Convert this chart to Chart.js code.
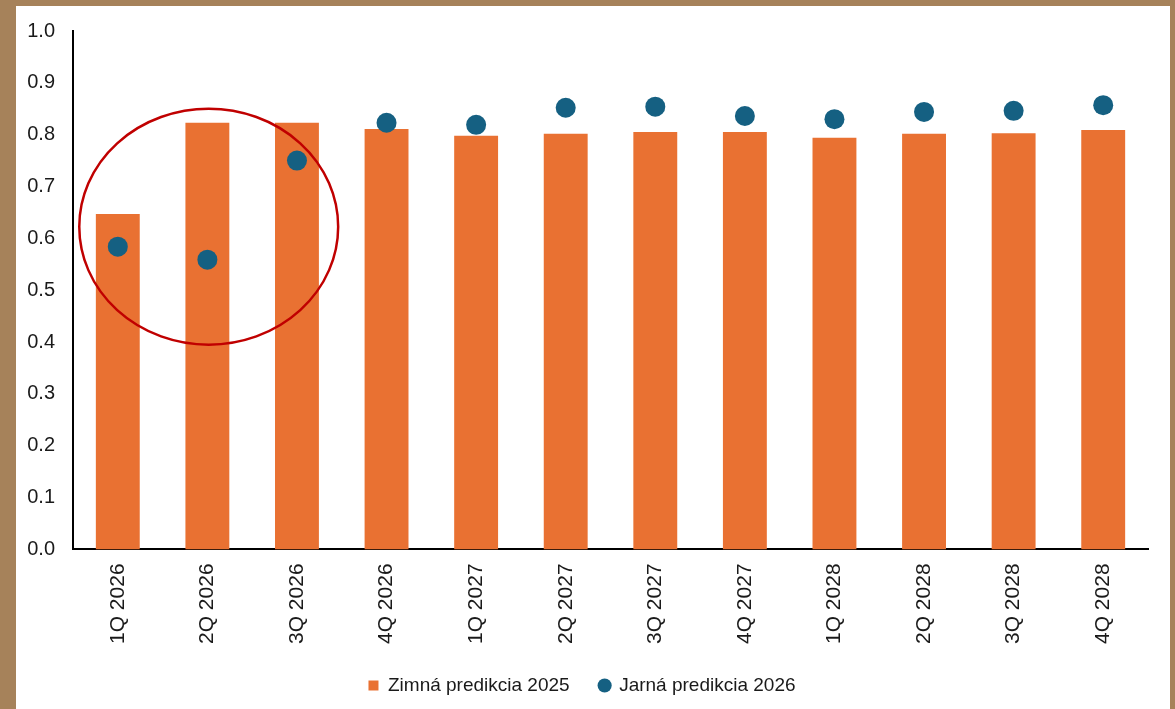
<!DOCTYPE html>
<html>
<head>
<meta charset="utf-8">
<script src="https://cdn.jsdelivr.net/npm/chart.js@4.4.1/dist/chart.umd.min.js"></script>
<style>
  html, body { margin: 0; padding: 0; }
  body { width: 1175px; height: 709px; background: #a6825a; position: relative; overflow: hidden; }
  #wrap { position: absolute; left: 16px; top: 6px; width: 1154px; height: 703px; background: #fff; overflow: hidden; }
  #inner { position: absolute; left: 0; top: -5px; width: 1154px; height: 708px; }
</style>
</head>
<body>
<div id="wrap"><div id="inner"><canvas id="chart"></canvas></div></div>
<script>
// categories and series
const quarters = ['1Q 2026', '2Q 2026', '3Q 2026', '4Q 2026', '1Q 2027', '2Q 2027',
                  '3Q 2027', '4Q 2027', '1Q 2028', '2Q 2028', '3Q 2028', '4Q 2028'];
const zimna2025 = [0.647, 0.823, 0.823, 0.811, 0.798, 0.802, 0.805, 0.805, 0.794, 0.802, 0.803, 0.809];
const jarna2026 = [0.584, 0.559, 0.750, 0.823, 0.819, 0.852, 0.854, 0.836, 0.830, 0.844, 0.846, 0.857];

// red ellipse round the first three quarters (in data units)
const ring = { xFrom: -0.43, xTo: 2.46, yFrom: 0.85, yTo: 0.395 };

const ringPlugin = {
  id: 'ring',
  afterDatasetsDraw(chart) {
    const { ctx, scales: { x, y } } = chart;
    const x1 = x.getPixelForValue(ring.xFrom), x2 = x.getPixelForValue(ring.xTo);
    const y1 = y.getPixelForValue(ring.yFrom), y2 = y.getPixelForValue(ring.yTo);
    ctx.save();
    ctx.beginPath();
    ctx.ellipse((x1 + x2) / 2, (y1 + y2) / 2, Math.abs(x2 - x1) / 2, Math.abs(y2 - y1) / 2, 0, 0, Math.PI * 2);
    ctx.strokeStyle = '#c00000';
    ctx.lineWidth = 2.5;
    ctx.stroke();
    ctx.restore();
  }
};

const font = 'Liberation Sans, Arial, sans-serif';

new Chart(document.getElementById('chart').getContext('2d'), {
  type: 'bar',
  data: {
    labels: quarters,
    datasets: [
      {
        label: 'Zimná predikcia 2025',
        data: zimna2025,
        backgroundColor: '#e97132',
        barPercentage: 0.49,
        categoryPercentage: 1,
        order: 2,
        pointStyle: 'rect'
      },
      {
        type: 'line',
        label: 'Jarná predikcia 2026',
        data: jarna2026,
        showLine: false,
        pointRadius: 10,
        pointHoverRadius: 10,
        pointBackgroundColor: '#156082',
        pointBorderWidth: 0,
        backgroundColor: '#156082',
        borderColor: '#156082',
        order: 1,
        pointStyle: 'circle'
      }
    ]
  },
  options: {
    responsive: true,
    maintainAspectRatio: false,
    animation: false,
    layout: { padding: { top: 9, right: 22, left: 0, bottom: 4 } },
    plugins: {
      tooltip: { enabled: false },
      legend: {
        position: 'bottom',
        labels: {
          usePointStyle: true,
          boxWidth: 10,
          boxHeight: 10,
          padding: 30,
          color: '#1a1a1a',
          font: { family: font, size: 19 },
          sort: (a, b) => a.datasetIndex - b.datasetIndex
        }
      }
    },
    scales: {
      x: {
        afterFit(scale) { scale.height -= 12; },
        grid: { display: false, drawTicks: false },
        border: { display: true, color: '#000', width: 2 },
        ticks: {
          minRotation: 90,
          maxRotation: 90,
          padding: 14,
          color: '#1a1a1a',
          font: { family: font, size: 21 }
        }
      },
      y: {
        min: 0,
        max: 1,
        afterFit(scale) { scale.width = 57; },
        grid: { display: false, drawTicks: false },
        border: { display: true, color: '#000', width: 2 },
        ticks: {
          stepSize: 0.1,
          padding: 18,
          color: '#1a1a1a',
          font: { family: font, size: 20 },
          callback: v => v.toFixed(1)
        }
      }
    }
  },
  plugins: [ringPlugin]
});
</script>
</body>
</html>
